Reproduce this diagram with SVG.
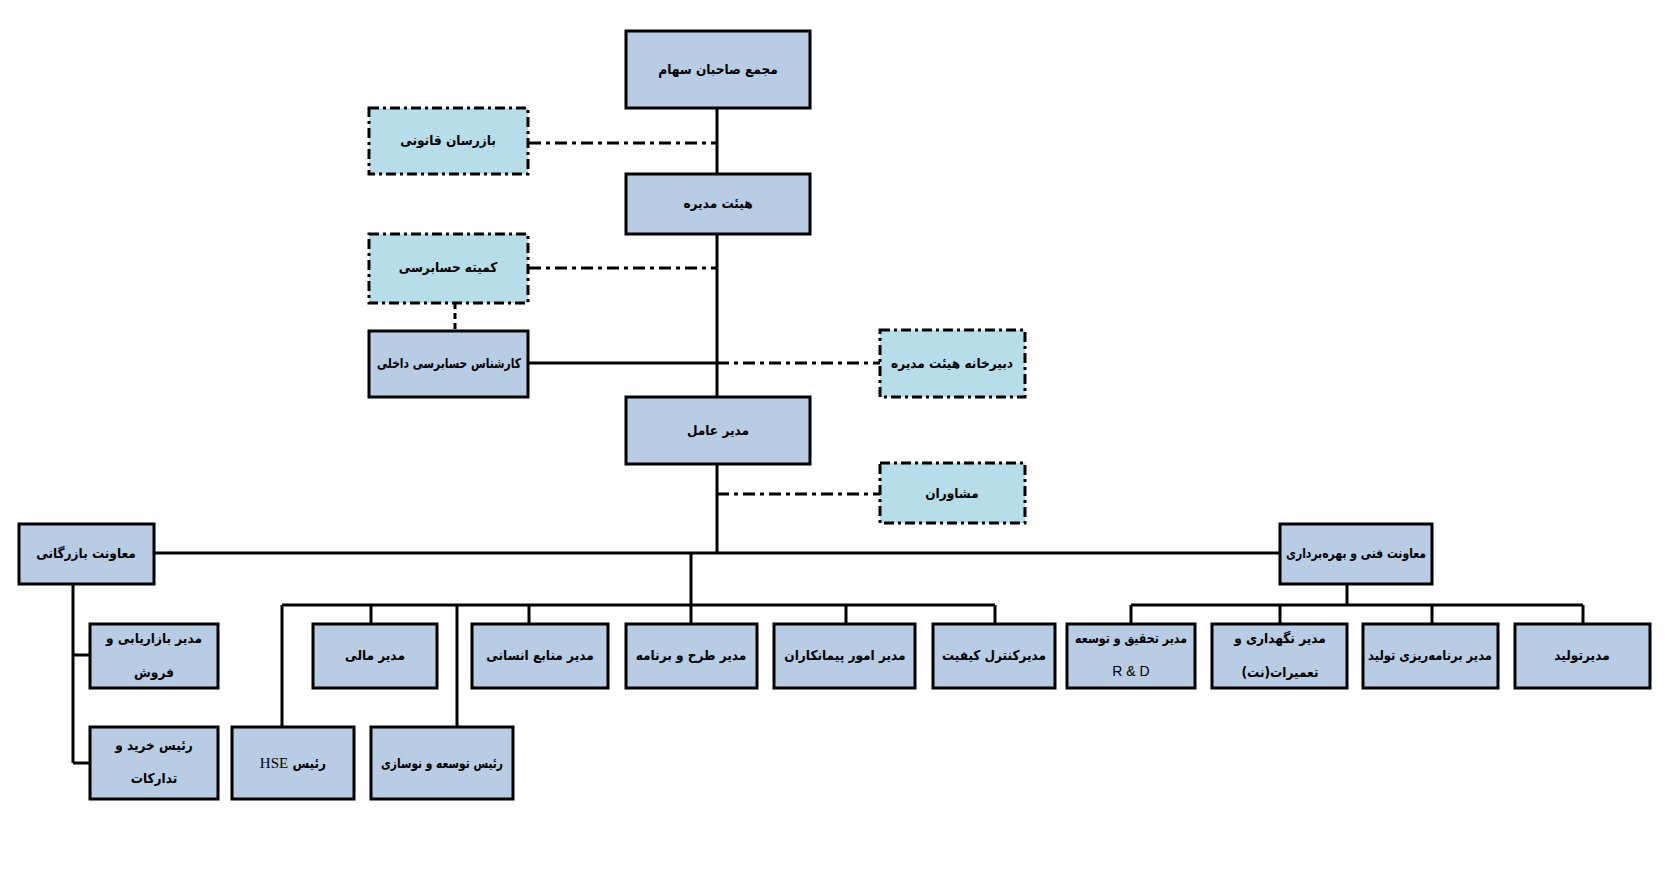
<svg xmlns="http://www.w3.org/2000/svg" width="1668" height="884" viewBox="0 0 1668 884">
<style>
.n{fill:#b8cce4;stroke:#000;stroke-width:3}
.d{fill:#b7dde8;stroke:#000;stroke-width:3;stroke-dasharray:10 4 3 4}
.l{fill:none;stroke:#000;stroke-width:3}
.dl{fill:none;stroke:#000;stroke-width:3;stroke-dasharray:12 5 4 5}
.dd{fill:none;stroke:#000;stroke-width:3;stroke-dasharray:6 4}
text{font-family:"DejaVu Sans Condensed","DejaVu Sans",sans-serif;font-size:13.5px;font-weight:bold;text-anchor:middle;direction:rtl;fill:#000}
.en{font-family:"Liberation Serif",serif;font-weight:normal;font-size:15px}
.ar{font-family:"Liberation Sans",sans-serif;font-weight:normal;font-size:14px;direction:ltr}
</style>
<rect width="1668" height="884" fill="#fff"/>
<g id="connectors">
<path class="l" d="M717 108V174M717 234V397M717 464V553"/>
<path class="dl" d="M529 143H717M529 268H717M717 363H880M717 494H880"/>
<path class="dd" d="M455 303V331"/>
<path class="l" d="M529 363H717"/>
<path class="l" d="M154 553H1280"/>
<path class="l" d="M691 553V605M282 605H995M282 605V727M371 605V624M457 605V727M529 605V624M691 605V624M846 605V624M995 605V624"/>
<path class="l" d="M73 584V763M73 655H90M73 763H90"/>
<path class="l" d="M1347 584V605M1131 605H1583M1131 605V624M1280 605V624M1432 605V624M1583 605V624"/>
</g>
<g id="n1"><rect class="n" x="626" y="31" width="184" height="77"/><text x="718" y="74">مجمع صاحبان سهام</text></g>
<g id="n2"><rect class="d" x="369" y="108" width="159" height="66"/><text x="448" y="145">بازرسان قانونی</text></g>
<g id="n3"><rect class="n" x="626" y="174" width="184" height="60"/><text x="718" y="208">هیئت مدیره</text></g>
<g id="n4"><rect class="d" x="369" y="234" width="159" height="69"/><text x="448" y="272">کمیته حسابرسی</text></g>
<g id="n5"><rect class="n" x="369" y="331" width="159" height="66"/><text x="449" y="368" textLength="144" lengthAdjust="spacingAndGlyphs">کارشناس حسابرسی داخلی</text></g>
<g id="n6"><rect class="d" x="880" y="330" width="145" height="67"/><text x="952" y="368">دبیرخانه هیئت مدیره</text></g>
<g id="n7"><rect class="n" x="626" y="397" width="184" height="67"/><text x="718" y="435">مدیر عامل</text></g>
<g id="n8"><rect class="d" x="880" y="463" width="145" height="60"/><text x="952" y="498">مشاوران</text></g>
<g id="n9"><rect class="n" x="19" y="524" width="135" height="60"/><text x="86" y="558">معاونت بازرگانی</text></g>
<g id="n10"><rect class="n" x="1280" y="524" width="152" height="60"/><text x="1356" y="558" textLength="140" lengthAdjust="spacingAndGlyphs">معاونت فنی و بهره‌برداری</text></g>
<g id="n11"><rect class="n" x="90" y="624" width="128" height="64"/><text x="154" y="643">مدیر بازاریابی و</text><text x="154" y="677">فروش</text></g>
<g id="n12"><rect class="n" x="90" y="727" width="128" height="72"/><text x="154" y="750">رئیس خرید و</text><text x="154" y="783">تدارکات</text></g>
<g id="n13"><rect class="n" x="313" y="624" width="124" height="64"/><text x="375" y="660">مدیر مالی</text></g>
<g id="n14"><rect class="n" x="472" y="624" width="136" height="64"/><text x="540" y="660">مدیر منابع انسانی</text></g>
<g id="n15"><rect class="n" x="626" y="624" width="131" height="64"/><text x="691" y="660">مدیر طرح و برنامه</text></g>
<g id="n16"><rect class="n" x="774" y="624" width="141" height="64"/><text x="845" y="660">مدیر امور پیمانکاران</text></g>
<g id="n17"><rect class="n" x="933" y="624" width="122" height="64"/><text x="994" y="660" textLength="104" lengthAdjust="spacingAndGlyphs">مدیرکنترل کیفیت</text></g>
<g id="n18"><rect class="n" x="232" y="727" width="122" height="72"/><text x="293" y="768">رئیس <tspan class="en">HSE</tspan></text></g>
<g id="n19"><rect class="n" x="371" y="727" width="142" height="72"/><text x="442" y="768" textLength="122" lengthAdjust="spacingAndGlyphs">رئیس توسعه و نوسازی</text></g>
<g id="n20"><rect class="n" x="1067" y="624" width="128" height="64"/><text x="1131" y="643" textLength="112" lengthAdjust="spacingAndGlyphs">مدیر تحقیق و توسعه</text><text class="ar" x="1131" y="676">R &amp; D</text></g>
<g id="n21"><rect class="n" x="1212" y="624" width="135" height="64"/><text x="1280" y="643">مدیر نگهداری و</text><text x="1280" y="677">تعمیرات(نت)</text></g>
<g id="n22"><rect class="n" x="1363" y="624" width="135" height="64"/><text x="1430" y="660" textLength="124" lengthAdjust="spacingAndGlyphs">مدیر برنامه‌ریزی تولید</text></g>
<g id="n23"><rect class="n" x="1515" y="624" width="135" height="64"/><text x="1582" y="660">مدیرتولید</text></g>
</svg>
